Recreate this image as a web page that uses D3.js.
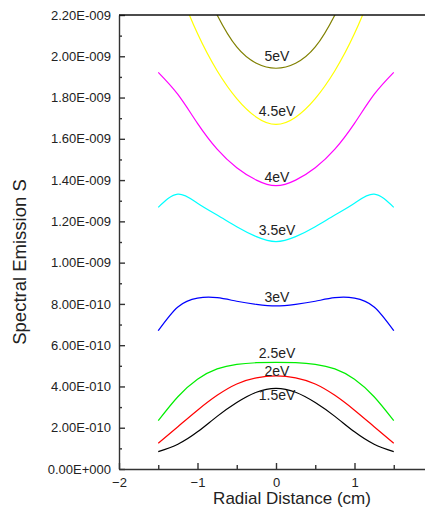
<!DOCTYPE html>
<html>
<head>
<meta charset="utf-8">
<script src="https://cdn.jsdelivr.net/npm/d3@7"></script>
<style>
  body { margin: 0; background: #fff; }
  svg { display: block; font-family: Arial, "Liberation Sans", sans-serif; }
  .axis path, .axis line { stroke: #333; stroke-width: 1.4; }
  .axis text { fill: #222; font-size: 13px; }
  .curve { fill: none; stroke-width: 1.2; }
</style>
</head>
<body>
<div id="chart"></div>
<script>
// radial positions (cm), evenly spaced (curveNatural wants even steps)
const radius = [-1.5, -1.25, -1, -0.75, -0.5, -0.25, 0, 0.25, 0.5, 0.75, 1, 1.25, 1.5];

// spectral emission, in units of 1e-10
const s15 = [0.84, 1.20, 1.80, 2.55, 3.22, 3.72, 3.91, 3.72, 3.22, 2.55, 1.80, 1.20, 0.84];
const s20 = [1.25, 2.05, 2.85, 3.57, 4.12, 4.42, 4.51, 4.42, 4.12, 3.57, 2.85, 2.05, 1.25];
const s25 = [2.34, 3.50, 4.35, 4.85, 5.07, 5.15, 5.17, 5.15, 5.07, 4.85, 4.35, 3.50, 2.34];
const s30 = [6.70, 7.85, 8.28, 8.30, 8.13, 7.98, 7.90, 7.98, 8.13, 8.30, 8.28, 7.85, 6.70];
const s35 = [12.68, 13.32, 12.88, 12.31, 11.74, 11.26, 11.02, 11.26, 11.74, 12.31, 12.88, 13.32, 12.68];
const s40 = [19.22, 18.15, 16.75, 15.50, 14.60, 14.00, 13.73, 14.00, 14.60, 15.50, 16.75, 18.15, 19.22];
const s45 = [26.0, 23.4, 21.1, 19.3, 17.95, 17.05, 16.70, 17.05, 17.95, 19.3, 21.1, 23.4, 26.0];
const s50 = [28.0, 26.0, 24.0, 22.0, 20.45, 19.66, 19.42, 19.66, 20.45, 22.0, 24.0, 26.0, 28.0];

const seriesNames = ["1.5eV", "2eV", "2.5eV", "3eV", "3.5eV", "4eV", "4.5eV", "5eV"];
const seriesValues = [s15, s20, s25, s30, s35, s40, s45, s50];
const seriesColors = ["#000000", "#ff0000", "#00ee00", "#0000ff", "#00ffff", "#ff00ff", "#ffff00", "#808000"];
// label shift from the curve value at r=0 (px)
const labelDy = [12, 0.5, -4, -3.5, -6.5, -4, -8, -7];

const xTicks = [-2, -1, 0, 1];
const xMinor = [-1.5, -0.5, 0.5, 1.5];
const yTicks = d3.range(0, 23, 2);
const yMinor = d3.range(1, 22, 2);

const W = 425, H = 514;
const svg = d3.select("#chart").append("svg").attr("width", W).attr("height", H);

const x = d3.scaleLinear().domain([-2, 2]).range([119, 433]);
const y = d3.scaleLinear().domain([0, 22]).range([469, 15]);

// 2.20E-009 style
function sci(v) {
  const s = (v * 1e-10).toExponential(2);
  const [m, e] = s.split("e");
  const n = Math.abs(parseInt(e, 10));
  return m + "E" + (e[0] === "-" ? "-" : "+") + String(n).padStart(3, "0");
}

svg.append("clipPath").attr("id", "plot")
  .append("rect").attr("x", 119).attr("y", 15).attr("width", 314).attr("height", 454);

// curves
const line = d3.line().x((d, i) => x(radius[i])).y(d => y(d)).curve(d3.curveNatural);
const g = svg.append("g").attr("clip-path", "url(#plot)");
seriesValues.forEach((vals, k) => {
  g.append("path").attr("class", "curve")
    .attr("stroke", seriesColors[k])
    .attr("d", line(vals));
});

// labels, placed over the centre of each curve
const mid = radius.indexOf(0);
seriesNames.forEach((name, k) => {
  svg.append("text")
    .attr("x", x(0) + 1)
    .attr("y", y(seriesValues[k][mid]) + labelDy[k])
    .attr("text-anchor", "middle")
    .attr("fill", "#222")
    .style("font-size", "14px")
    .text(name);
});

// y axis
svg.append("g").attr("class", "axis").attr("transform", "translate(119,0)")
  .call(d3.axisLeft(y).tickValues(yTicks).tickFormat(sci).tickSizeInner(-6).tickSizeOuter(0).tickPadding(8));
svg.append("g").attr("class", "axis").attr("transform", "translate(119,0)")
  .call(d3.axisLeft(y).tickValues(yMinor).tickFormat("").tickSizeInner(-3).tickSizeOuter(0))
  .select(".domain").remove();

// x axis
svg.append("g").attr("class", "axis").attr("transform", "translate(0,469)")
  .call(d3.axisBottom(x).tickValues(xTicks).tickFormat(d3.format("d")).tickSizeInner(-6).tickSizeOuter(0).tickPadding(9));
svg.append("g").attr("class", "axis").attr("transform", "translate(0,469)")
  .call(d3.axisBottom(x).tickValues(xMinor).tickFormat("").tickSizeInner(-4).tickSizeOuter(0))
  .select(".domain").remove();

// top frame
svg.append("line").attr("x1", 119).attr("x2", 433).attr("y1", 15).attr("y2", 15)
  .attr("stroke", "#111").attr("stroke-width", 1.4);

// titles
svg.append("text").attr("x", 292).attr("y", 504).attr("text-anchor", "middle")
  .attr("fill", "#222").style("font-size", "17px").text("Radial Distance (cm)");
svg.append("text").attr("transform", "translate(26,262) rotate(-90)").attr("text-anchor", "middle")
  .attr("fill", "#222").style("font-size", "18.5px").text("Spectral Emission S");
</script>
</body>
</html>
